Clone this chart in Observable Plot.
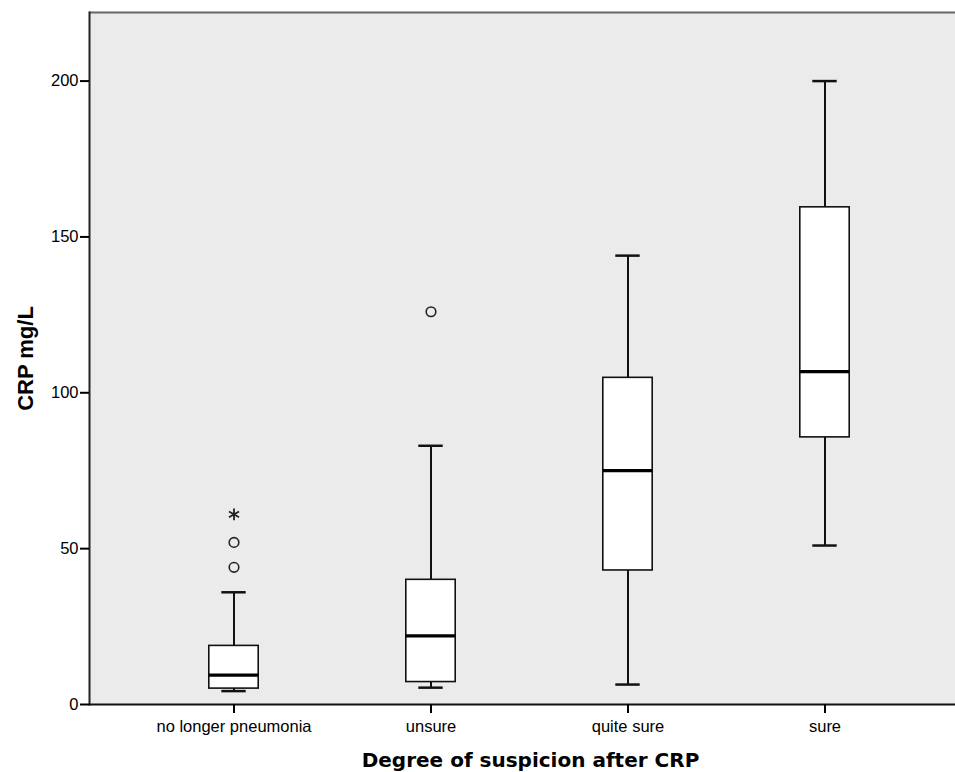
<!DOCTYPE html>
<html>
<head>
<meta charset="utf-8">
<script src="https://cdn.jsdelivr.net/npm/d3@7"></script>
<script src="https://cdn.jsdelivr.net/npm/@observablehq/plot@0.6"></script>
<style>
  html, body { margin: 0; padding: 0; background: #fff; }
  #chart svg { display: block; }
</style>
</head>
<body>
<div id="chart"></div>
<script>
// Categories and box-plot statistics (CRP mg/L)
const categories = ["no longer pneumonia", "unsure", "quite sure", "sure"];
const lowerWhisker = [4.3, 5.4, 6.4, 51];
const q1 = [5.1, 7.2, 43, 85.7];
const median = [9.4, 22, 75, 106.8];
const q3 = [18.8, 40, 104.8, 159.5];
const upperWhisker = [36, 83, 144, 200];

// Outliers: circles and extreme (star)
const outlierCategory = ["no longer pneumonia", "no longer pneumonia", "unsure", "no longer pneumonia"];
const outlierValue = [44, 52, 126, 61];
const outlierKind = ["circle", "circle", "circle", "extreme"];

const yTicks = [0, 50, 100, 150, 200];
const xLabel = "Degree of suspicion after CRP";
const yLabel = "CRP mg/L";

const boxes = categories.map((c, i) => ({
  cat: c, lo: lowerWhisker[i], q1: q1[i], med: median[i], q3: q3[i], hi: upperWhisker[i]
}));
const outliers = outlierCategory.map((c, i) => ({cat: c, v: outlierValue[i], kind: outlierKind[i]}));

const W = 955, H = 772;
const step = 197.6;
const boxInset = (step - 50) / 2;
const capInset = (step - 25) / 2;

const chart = Plot.plot({
  width: W,
  height: H,
  marginLeft: 89,
  marginRight: 0,
  marginTop: 12,
  marginBottom: 68,
  style: {fontFamily: "'Liberation Sans', Arial, sans-serif", fontSize: "16px", color: "#000", background: "#fff"},
  x: {type: "band", domain: categories, range: [232.3 - step / 2, 232.3 + step * 3.5], padding: 0},
  y: {domain: [0, 222]},
  marks: [
    Plot.frame({fill: "#ebebeb", stroke: null}),
    Plot.ruleY([222], {stroke: "#666", strokeWidth: 2}),
    Plot.frame({anchor: "left", stroke: "#222", strokeWidth: 2}),
    // whiskers
    Plot.ruleX(boxes, {x: "cat", y1: "q3", y2: "hi", stroke: "#111", strokeWidth: 2}),
    Plot.ruleX(boxes, {x: "cat", y1: "lo", y2: "q1", stroke: "#111", strokeWidth: 2}),
    Plot.tickY(boxes, {x: "cat", y: "hi", stroke: "#111", strokeWidth: 2.5, insetLeft: capInset, insetRight: capInset}),
    Plot.tickY(boxes, {x: "cat", y: "lo", stroke: "#111", strokeWidth: 2.5, insetLeft: capInset, insetRight: capInset}),
    // boxes
    Plot.barY(boxes, {x: "cat", y1: "q1", y2: "q3", fill: "#fff", stroke: "#111", strokeWidth: 1.6, insetLeft: boxInset, insetRight: boxInset}),
    Plot.tickY(boxes, {x: "cat", y: "med", stroke: "#000", strokeWidth: 3.2, insetLeft: boxInset, insetRight: boxInset}),
    // outliers
    Plot.dot(outliers.filter(d => d.kind === "circle"), {x: "cat", y: "v", r: 4.8, stroke: "#222", strokeWidth: 1.6, fill: "none"}),
    Plot.dot(outliers.filter(d => d.kind === "extreme"), {x: "cat", y: "v", r: 5.5, symbol: "asterisk", stroke: "#222", strokeWidth: 1.8}),
    // axes
    Plot.ruleY([0], {stroke: "#111", strokeWidth: 2.2}),
    Plot.axisY({ticks: yTicks, tickSize: 9, tickPadding: 2, strokeWidth: 2, fontSize: 16.5, label: null}),
    Plot.axisX({tickSize: 9, tickPadding: 7, strokeWidth: 2, fontSize: 16.5, label: null}),
    Plot.text([xLabel], {frameAnchor: "bottom", dx: 8, dy: 56, fontSize: 20, fontWeight: "bold", fontFamily: "'DejaVu Sans', Verdana, sans-serif", lineAnchor: "middle", textAnchor: "middle"}),
    Plot.text([yLabel], {frameAnchor: "left", rotate: -90, dx: -64, fontSize: 22, fontWeight: "bold", fontFamily: "'Liberation Sans', Arial, sans-serif", textAnchor: "middle", lineAnchor: "middle"})
  ]
});

document.getElementById("chart").appendChild(chart);
</script>
</body>
</html>
